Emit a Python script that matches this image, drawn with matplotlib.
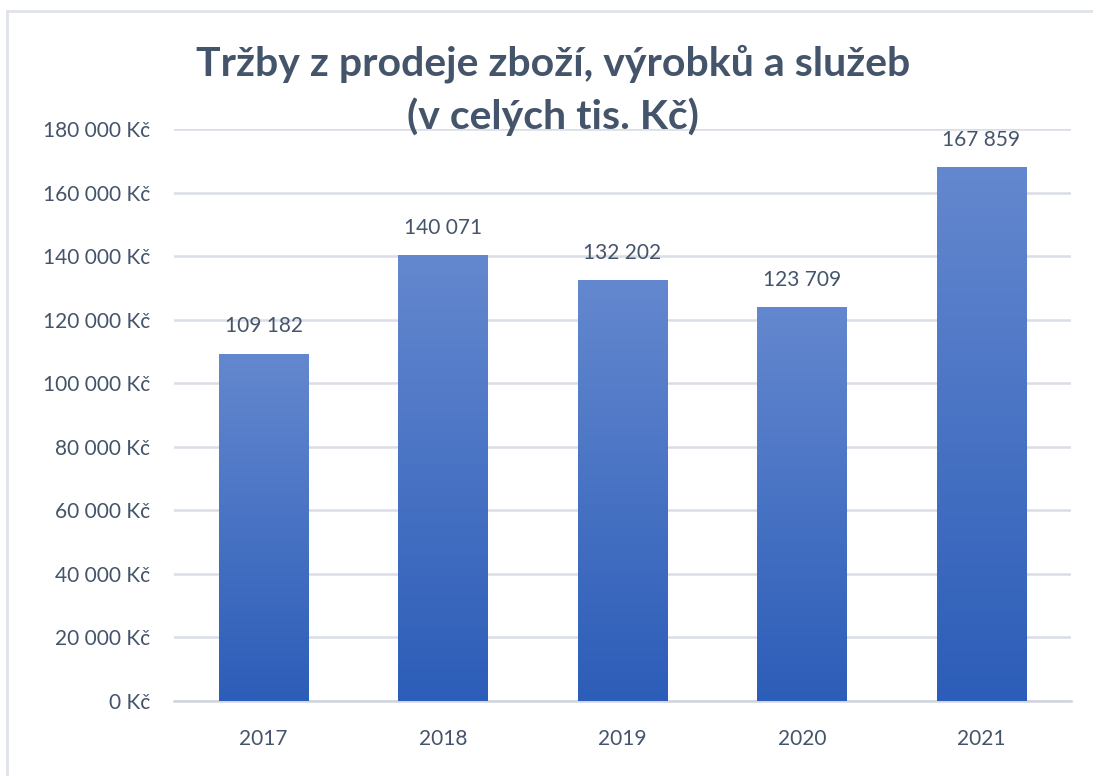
import numpy as np
from matplotlib import pyplot as plt
from matplotlib.patches import Rectangle
from matplotlib.colors import LinearSegmentedColormap

years = ["2017", "2018", "2019", "2020", "2021"]
sales = [109182, 140071, 132202, 123709, 167859]
yticks = [0, 20000, 40000, 60000, 80000, 100000, 120000, 140000, 160000, 180000]


def fmtThousands(v):
    return f"{v:,.0f}".replace(",", " ")


plt.rcParams['font.family'] = ['Lato', 'DejaVu Sans']

textColor = "#44546a"
gridColor = "#d9dde5"
barCmap = LinearSegmentedColormap.from_list("bars", ["#2c5db8", "#6488cf"])

fig = plt.figure(figsize=(10.93, 7.76), dpi=100)
ax = fig.add_axes([0.159, 0.0966, 0.821, 0.737])

x = np.arange(len(years))
bars = ax.bar(x, sales, width=0.5, color="none", zorder=3)

ax.set_xlim(-0.5, len(years) - 0.5)
ax.set_ylim(0, 180000)

# gradient fill per bar
grad = np.linspace(0, 1, 256).reshape(-1, 1)
for b in bars:
    x0, y0 = b.get_x(), b.get_y()
    ax.imshow(grad, extent=[x0, x0 + b.get_width(), y0, y0 + b.get_height()],
              origin="lower", aspect="auto", cmap=barCmap, zorder=3)

for xi, v in zip(x, sales):
    ax.annotate(fmtThousands(v), (xi, v), xytext=(0, 20), textcoords="offset points",
                ha="center", va="center", fontsize=15, color=textColor)

ax.set_yticks(yticks)
ax.set_yticklabels([fmtThousands(t) + " Kč" for t in yticks])
ax.set_xticks(x)
ax.set_xticklabels(years)
ax.tick_params(axis="y", length=0, pad=17, labelsize=15, labelcolor=textColor)
ax.tick_params(axis="x", length=0, pad=20, labelsize=15, labelcolor=textColor)

ax.grid(True, axis="y", color=gridColor, linewidth=1.8, zorder=0)
for s in ["top", "right", "left"]:
    ax.spines[s].set_visible(False)
ax.spines["bottom"].set_color("#d0d4dc")
ax.spines["bottom"].set_linewidth(1.8)

fig.text(0.506, 0.884, "Tržby z prodeje zboží, výrobků a služeb\n(v celých tis. Kč)",
         ha="center", va="center", fontsize=29.5, fontweight="bold", color=textColor,
         linespacing=1.45)

fig.patches.append(Rectangle((7 / 1093, -0.05), 1.1, 1 - 11 / 776 + 0.05, transform=fig.transFigure,
                             facecolor="none", edgecolor="#dfe3ea", linewidth=2))

fig.savefig("out.png", dpi=100)
